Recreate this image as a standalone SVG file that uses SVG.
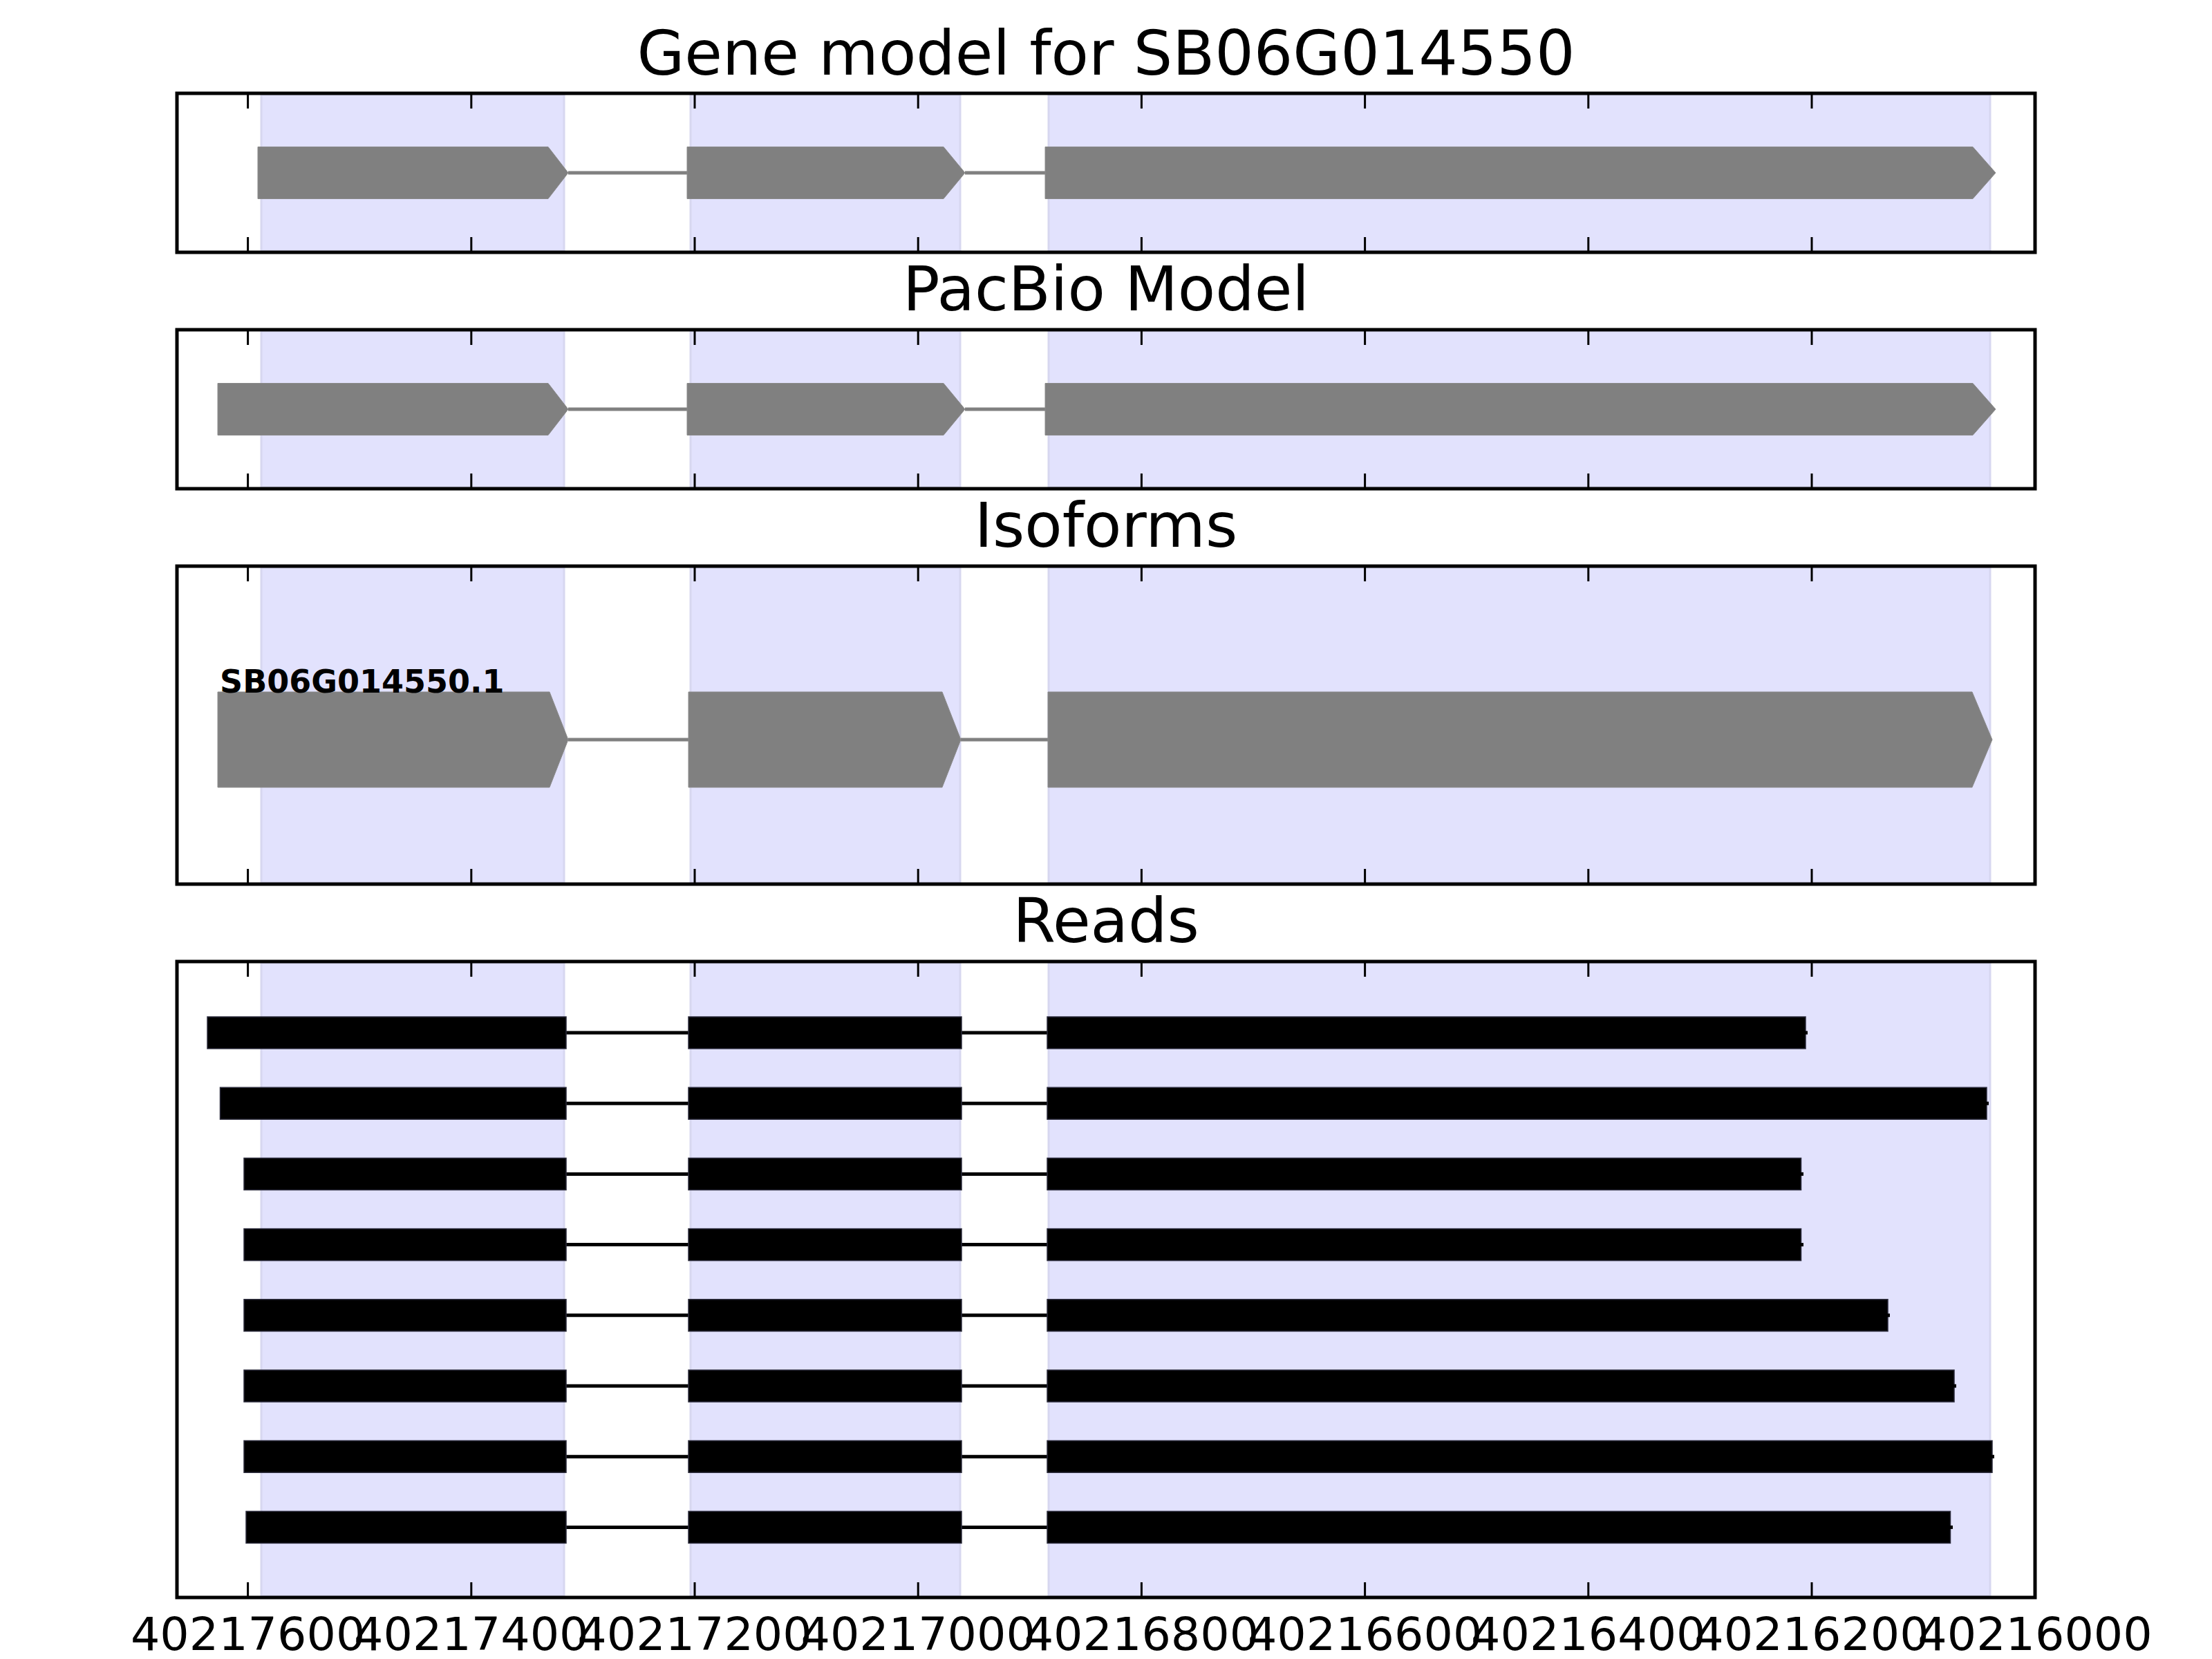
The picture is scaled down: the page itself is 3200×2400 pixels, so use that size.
<svg xmlns="http://www.w3.org/2000/svg" width="3200" height="2400" viewBox="0 0 3200 2400">
<style>
.title{font-family:"DejaVu Sans","Liberation Sans",sans-serif;font-size:88.9px;fill:#000;text-anchor:middle}
.tick{font-family:"DejaVu Sans","Liberation Sans",sans-serif;font-size:66.7px;fill:#000;text-anchor:middle}
.lbl{font-family:"DejaVu Sans","Liberation Sans",sans-serif;font-size:46px;font-weight:bold;fill:#000}
.shade{fill:#E2E2FD;stroke:#D7D7F0;stroke-width:3}
.frame{fill:none;stroke:#000;stroke-width:5}
.tk{stroke:#000;stroke-width:3}
.gexon{fill:#808080;stroke:#8a8a8a;stroke-width:1}
.gintron{stroke:#808080;stroke-width:5}
.rexon{fill:#000;stroke:#2a2a3a;stroke-width:1.5}
.rintron{stroke:#000;stroke-width:5}
</style>
<rect x="0" y="0" width="3200" height="2400" fill="#fff"/>

<!-- titles -->
<text class="title" x="1600" y="108">Gene model for SB06G014550</text>
<text class="title" x="1600" y="449">PacBio Model</text>
<text class="title" x="1600" y="791">Isoforms</text>
<text class="title" x="1600" y="1363">Reads</text>

<!-- shaded exon regions -->
<g id="shading">
<rect class="shade" x="378" y="137" width="438" height="226"/>
<rect class="shade" x="999" y="137" width="390" height="226"/>
<rect class="shade" x="1517" y="137" width="1362" height="226"/>
<rect class="shade" x="378" y="479" width="438" height="226"/>
<rect class="shade" x="999" y="479" width="390" height="226"/>
<rect class="shade" x="1517" y="479" width="1362" height="226"/>
<rect class="shade" x="378" y="821" width="438" height="456"/>
<rect class="shade" x="999" y="821" width="390" height="456"/>
<rect class="shade" x="1517" y="821" width="1362" height="456"/>
<rect class="shade" x="378" y="1393" width="438" height="916"/>
<rect class="shade" x="999" y="1393" width="390" height="916"/>
<rect class="shade" x="1517" y="1393" width="1362" height="916"/>
</g>

<!-- connectors (introns) -->
<g id="connectors">
<line class="gintron" x1="822" y1="250" x2="994" y2="250"/>
<line class="gintron" x1="1396" y1="250" x2="1512" y2="250"/>
<line class="gintron" x1="822" y1="592" x2="994" y2="592"/>
<line class="gintron" x1="1396" y1="592" x2="1512" y2="592"/>
<line class="gintron" x1="822" y1="1070" x2="996" y2="1070"/>
<line class="gintron" x1="1390" y1="1070" x2="1516" y2="1070"/>
<line class="rintron" x1="819" y1="1494" x2="996" y2="1494"/>
<line class="rintron" x1="1391" y1="1494" x2="1515" y2="1494"/>
<line class="rintron" x1="819" y1="1596.2" x2="996" y2="1596.2"/>
<line class="rintron" x1="1391" y1="1596.2" x2="1515" y2="1596.2"/>
<line class="rintron" x1="819" y1="1698.4" x2="996" y2="1698.4"/>
<line class="rintron" x1="1391" y1="1698.4" x2="1515" y2="1698.4"/>
<line class="rintron" x1="819" y1="1800.6" x2="996" y2="1800.6"/>
<line class="rintron" x1="1391" y1="1800.6" x2="1515" y2="1800.6"/>
<line class="rintron" x1="819" y1="1902.8" x2="996" y2="1902.8"/>
<line class="rintron" x1="1391" y1="1902.8" x2="1515" y2="1902.8"/>
<line class="rintron" x1="819" y1="2005" x2="996" y2="2005"/>
<line class="rintron" x1="1391" y1="2005" x2="1515" y2="2005"/>
<line class="rintron" x1="819" y1="2107.2" x2="996" y2="2107.2"/>
<line class="rintron" x1="1391" y1="2107.2" x2="1515" y2="2107.2"/>
<line class="rintron" x1="819" y1="2209.4" x2="996" y2="2209.4"/>
<line class="rintron" x1="1391" y1="2209.4" x2="1515" y2="2209.4"/>
</g>

<!-- gene model -->
<g id="gene-model">
<polygon class="gexon" points="373,212.5 793,212.5 822,250 793,287.5 373,287.5"/>
<polygon class="gexon" points="994,212.5 1365,212.5 1396,250 1365,287.5 994,287.5"/>
<polygon class="gexon" points="1512,212.5 2854,212.5 2887,250 2854,287.5 1512,287.5"/>
</g>

<!-- pacbio model -->
<g id="pacbio-model">
<polygon class="gexon" points="315,554.5 793,554.5 822,592 793,629.5 315,629.5"/>
<polygon class="gexon" points="994,554.5 1365,554.5 1396,592 1365,629.5 994,629.5"/>
<polygon class="gexon" points="1512,554.5 2854,554.5 2887,592 2854,629.5 1512,629.5"/>
</g>

<!-- isoform -->
<g id="isoform-SB06G014550.1">
<polygon class="gexon" points="315,1001 795,1001 822,1070 795,1139 315,1139"/>
<polygon class="gexon" points="996,1001 1363,1001 1390,1070 1363,1139 996,1139"/>
<polygon class="gexon" points="1516,1001 2853,1001 2882,1070 2853,1139 1516,1139"/>
<text class="lbl" x="318" y="1002">SB06G014550.1</text>
</g>

<!-- reads -->
<g id="read-1">
<rect class="rexon" x="300" y="1471" width="519" height="46"/><rect class="rexon" x="996" y="1471" width="395" height="46"/><rect class="rexon" x="1515" y="1471" width="1097" height="46"/><line class="rintron" x1="2610" y1="1494" x2="2615" y2="1494"/>
</g>
<g id="read-2">
<rect class="rexon" x="318.5" y="1573.2" width="500.5" height="46"/><rect class="rexon" x="996" y="1573.2" width="395" height="46"/><rect class="rexon" x="1515" y="1573.2" width="1359" height="46"/><line class="rintron" x1="2872" y1="1596.2" x2="2877" y2="1596.2"/>
</g>
<g id="read-3">
<rect class="rexon" x="353" y="1675.4" width="466" height="46"/><rect class="rexon" x="996" y="1675.4" width="395" height="46"/><rect class="rexon" x="1515" y="1675.4" width="1090.5" height="46"/><line class="rintron" x1="2604" y1="1698.4" x2="2609" y2="1698.4"/>
</g>
<g id="read-4">
<rect class="rexon" x="353" y="1777.6" width="466" height="46"/><rect class="rexon" x="996" y="1777.6" width="395" height="46"/><rect class="rexon" x="1515" y="1777.6" width="1090.5" height="46"/><line class="rintron" x1="2604" y1="1800.6" x2="2609" y2="1800.6"/>
</g>
<g id="read-5">
<rect class="rexon" x="353" y="1879.8" width="466" height="46"/><rect class="rexon" x="996" y="1879.8" width="395" height="46"/><rect class="rexon" x="1515" y="1879.8" width="1216" height="46"/><line class="rintron" x1="2729" y1="1902.8" x2="2734" y2="1902.8"/>
</g>
<g id="read-6">
<rect class="rexon" x="353" y="1982" width="466" height="46"/><rect class="rexon" x="996" y="1982" width="395" height="46"/><rect class="rexon" x="1515" y="1982" width="1312" height="46"/><line class="rintron" x1="2825" y1="2005" x2="2830" y2="2005"/>
</g>
<g id="read-7">
<rect class="rexon" x="353" y="2084.2" width="466" height="46"/><rect class="rexon" x="996" y="2084.2" width="395" height="46"/><rect class="rexon" x="1515" y="2084.2" width="1367" height="46"/><line class="rintron" x1="2880" y1="2107.2" x2="2885" y2="2107.2"/>
</g>
<g id="read-8">
<rect class="rexon" x="356" y="2186.4" width="463" height="46"/><rect class="rexon" x="996" y="2186.4" width="395" height="46"/><rect class="rexon" x="1515" y="2186.4" width="1306.5" height="46"/><line class="rintron" x1="2820" y1="2209.4" x2="2825" y2="2209.4"/>
</g>

<!-- ticks -->
<g id="ticks">
<path class="tk" d="M358.6 135v22M681.8 135v22M1005 135v22M1328.2 135v22M1651.4 135v22M1974.6 135v22M2297.8 135v22M2621 135v22
M358.6 365v-22M681.8 365v-22M1005 365v-22M1328.2 365v-22M1651.4 365v-22M1974.6 365v-22M2297.8 365v-22M2621 365v-22
M358.6 477v22M681.8 477v22M1005 477v22M1328.2 477v22M1651.4 477v22M1974.6 477v22M2297.8 477v22M2621 477v22
M358.6 707v-22M681.8 707v-22M1005 707v-22M1328.2 707v-22M1651.4 707v-22M1974.6 707v-22M2297.8 707v-22M2621 707v-22
M358.6 819v22M681.8 819v22M1005 819v22M1328.2 819v22M1651.4 819v22M1974.6 819v22M2297.8 819v22M2621 819v22
M358.6 1279v-22M681.8 1279v-22M1005 1279v-22M1328.2 1279v-22M1651.4 1279v-22M1974.6 1279v-22M2297.8 1279v-22M2621 1279v-22
M358.6 1391v22M681.8 1391v22M1005 1391v22M1328.2 1391v22M1651.4 1391v22M1974.6 1391v22M2297.8 1391v22M2621 1391v22
M358.6 2311v-22M681.8 2311v-22M1005 2311v-22M1328.2 2311v-22M1651.4 2311v-22M1974.6 2311v-22M2297.8 2311v-22M2621 2311v-22"/>
</g>

<!-- frames -->
<g id="frames">
<rect class="frame" x="256" y="135" width="2688" height="230"/>
<rect class="frame" x="256" y="477" width="2688" height="230"/>
<rect class="frame" x="256" y="819" width="2688" height="460"/>
<rect class="frame" x="256" y="1391" width="2688" height="920"/>
</g>

<!-- x tick labels -->
<g id="xlabels">
<text class="tick" x="358.6" y="2387">40217600</text>
<text class="tick" x="681.8" y="2387">40217400</text>
<text class="tick" x="1005" y="2387">40217200</text>
<text class="tick" x="1328.2" y="2387">40217000</text>
<text class="tick" x="1651.4" y="2387">40216800</text>
<text class="tick" x="1974.6" y="2387">40216600</text>
<text class="tick" x="2297.8" y="2387">40216400</text>
<text class="tick" x="2621" y="2387">40216200</text>
<text class="tick" x="2944" y="2387">40216000</text>
</g>
</svg>
